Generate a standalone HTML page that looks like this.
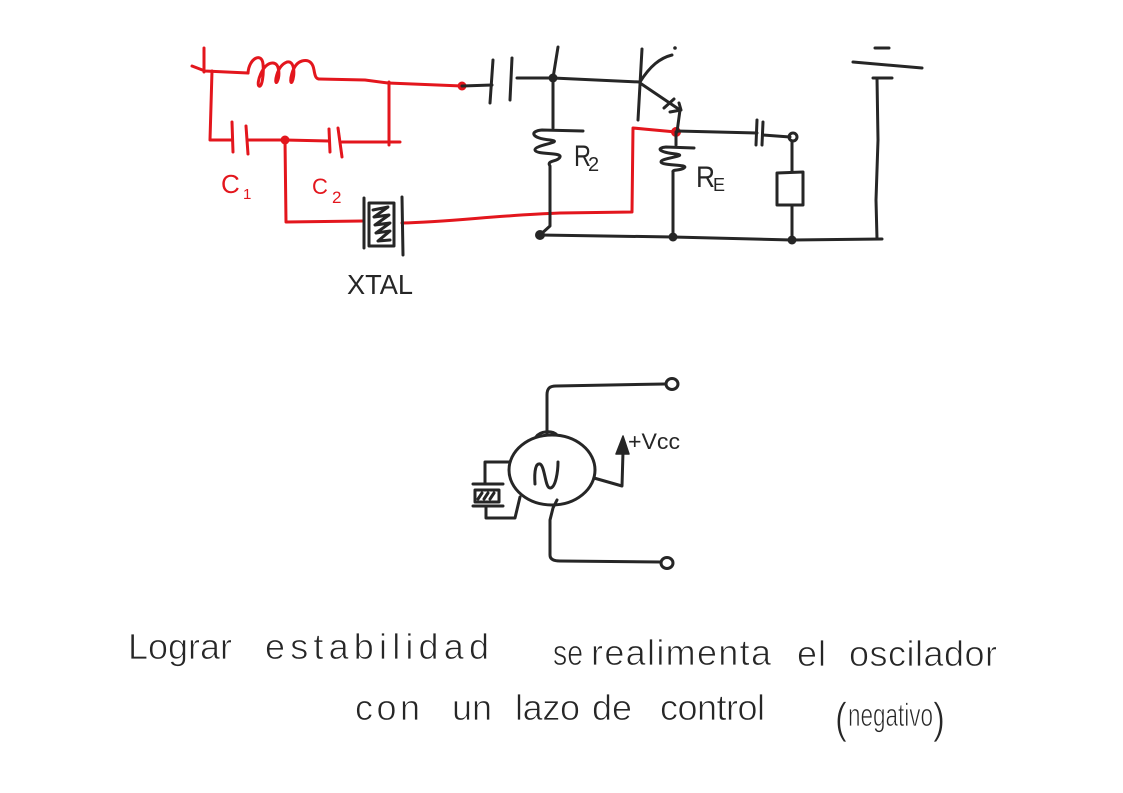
<!DOCTYPE html>
<html>
<head>
<meta charset="utf-8">
<style>
html,body{margin:0;padding:0;background:#fff;}
svg{display:block;}
.r{stroke:#e3161d;fill:none;stroke-width:3;stroke-linecap:round;stroke-linejoin:round;}
.k{stroke:#262626;fill:none;stroke-width:3;stroke-linecap:round;stroke-linejoin:round;}
.t{font-family:"Liberation Sans",sans-serif;fill:#262626;}
.tr{font-family:"Liberation Sans",sans-serif;fill:#e3161d;}
.h{font-family:"Liberation Sans",sans-serif;fill:#262626;stroke:#fff;stroke-width:0.8;}
</style>
</head>
<body>
<svg width="1123" height="793" viewBox="0 0 1123 793" xmlns="http://www.w3.org/2000/svg">
<rect width="1123" height="793" fill="#fff"/>

<!-- ===== RED TANK CIRCUIT ===== -->
<path class="r" d="M204,48 L204,72"/>
<path class="r" d="M192,66 L205,71 L248,73"/>
<!-- inductor -->
<path class="r" d="M248,73 C249,58 262,52 263,64 C264,74 262,88 259,86 C256,84 262,64 272,63 C280,62 280,76 277,82 C274,86 276,66 287,62 C295,60 295,76 292,82 C289,86 291,64 302,61 C310,59 313,64 314,70 C315,76 316,79 319,79"/>
<path class="r" d="M319,79 L365,80 L388,83 L462,86"/>
<circle cx="462" cy="86" r="4.5" fill="#e3161d"/>
<path class="r" d="M389,82 L389,145"/>
<path class="r" d="M212,71 L210,140 L232,140"/>
<path class="r" d="M232,122 L233,152"/>
<path class="r" d="M246,126 L248,154"/>
<path class="r" d="M248,140 L285,140 L329,141"/>
<circle cx="285" cy="140" r="4.5" fill="#e3161d"/>
<path class="r" d="M329,129 L330,152"/>
<path class="r" d="M338,128 L342,157"/>
<path class="r" d="M342,142 L400,142"/>
<path class="r" d="M285,140 L286,222 L363,221"/>
<path class="r" d="M402,223 C450,222 500,215 560,213 L632,212 L633,128 L676,132"/>
<circle cx="676" cy="132" r="5" fill="#e3161d"/>

<!-- C labels -->
<text class="tr" x="221" y="193" font-size="26">C</text>
<text class="tr" x="243" y="199" font-size="15">1</text>
<text class="tr" x="312" y="194" font-size="22">C</text>
<text class="tr" x="332" y="203" font-size="17">2</text>

<!-- XTAL -->
<path class="k" d="M364,198 L364,248"/>
<path class="k" d="M369,203 L394,203 L394,246 L369,246 Z"/>
<path class="k" stroke-width="2" d="M373,210 L388,207 L374,217 L389,215 L375,225 L390,223 L376,233 L390,231 L378,241 L390,240"/>
<path class="k" d="M402,197 L403,255"/>
<text class="t" x="347" y="294" font-size="28" textLength="66" lengthAdjust="spacingAndGlyphs">XTAL</text>

<!-- ===== BLACK CIRCUIT ===== -->
<path class="k" d="M462,86 L492,85"/>
<path class="k" d="M493,60 L490,103"/>
<path class="k" d="M512,58 L510,100"/>
<path class="k" d="M517,78 L553,78"/>
<circle cx="553" cy="78" r="4.5" fill="#262626"/>
<path class="k" d="M558,47 L553,78 L553,128"/>
<path class="k" d="M553,78 L640,82"/>

<!-- R2 -->
<path class="k" d="M583,131 L542,130 C530,131 530,138 550,140 C566,142 534,145 535,150 C536,155 562,152 560,157 C558,162 546,160 550,166 L550,226 L540,235"/>
<text class="t" x="574" y="166" font-size="30" textLength="17" lengthAdjust="spacingAndGlyphs">R</text>
<text class="t" x="588" y="171" font-size="20">2</text>

<!-- transistor -->
<path class="k" d="M642,49 L638,120"/>
<path class="k" d="M640,82 C650,66 660,58 672,55"/>
<circle cx="675" cy="48" r="1.8" fill="#262626"/>
<path class="k" d="M640,83 L680,110"/>
<path class="k" d="M664,108 L674,99"/>
<path class="k" d="M670,112 L681,110 L679,103"/>
<path class="k" d="M680,110 L677,132"/>

<!-- output cap & load -->
<path class="k" d="M677,131 L757,133"/>
<path class="k" d="M757,120 L756,145"/>
<path class="k" d="M763,122 L762,145"/>
<path class="k" d="M763,135 L790,137"/>
<circle cx="793" cy="137" r="4" fill="none" stroke="#262626" stroke-width="3"/>
<path class="k" d="M792,141 L792,172"/>
<path class="k" d="M777,173 L803,172 L803,205 L777,205 Z"/>
<path class="k" d="M792,205 L792,240"/>

<!-- RE -->
<path class="k" d="M676,132 L676,145"/>
<path class="k" d="M694,148 L666,147 C656,148 658,152 676,154 C690,156 660,158 661,162 C662,166 690,164 684,168 C680,171 672,169 673,172 L673,237"/>
<text class="t" x="696" y="187" font-size="30" textLength="19" lengthAdjust="spacingAndGlyphs">R</text>
<text class="t" x="713" y="191" font-size="18">E</text>

<!-- ground rail -->
<path class="k" d="M540,235 L673,237 L792,240 L882,239"/>
<circle cx="540" cy="235" r="5" fill="#262626"/>
<circle cx="673" cy="237" r="4.5" fill="#262626"/>
<circle cx="792" cy="240" r="4.5" fill="#262626"/>

<!-- supply -->
<path class="k" d="M875,48 L889,48"/>
<path class="k" d="M853,62 L922,68"/>
<path class="k" d="M873,78 L892,78"/>
<path class="k" d="M877,78 L878,140 L876,200 L877,239"/>

<!-- ===== OSCILLATOR BLOCK ===== -->
<ellipse class="k" cx="552" cy="470" rx="43" ry="35"/>
<path class="k" d="M535,484 C534,470 536,463 540,464 C545,466 545,488 550,488 C556,488 558,470 558,462"/>
<path class="k" d="M536,437 C540,431 552,430 557,435"/>
<path class="k" d="M547,434 L547,395 C547,388 550,386 556,386 L665,384"/>
<ellipse class="k" cx="672" cy="384" rx="6" ry="5.5"/>
<path class="k" d="M557,500 L553,508 L550,520 L550,555 C550,560 555,561 560,561 L661,562"/>
<ellipse class="k" cx="667" cy="563" rx="6" ry="5.5"/>
<path class="k" d="M594,478 L622,486 L623,452"/>
<path d="M616,454 L623,436 L629,454 Z" fill="#262626" stroke="#262626" stroke-width="1.5" stroke-linejoin="round"/>
<text class="t" x="628" y="449" font-size="22" textLength="52" lengthAdjust="spacingAndGlyphs">+Vcc</text>

<!-- small crystal -->
<path class="k" d="M509,462 L485,462 L485,483"/>
<path class="k" d="M473,484 L503,484"/>
<path class="k" d="M475,490 L499,490 L499,502 L475,502 Z"/>
<path class="k" stroke-width="2" d="M478,499 L482,493 M484,499 L488,493 M490,499 L494,493"/>
<path class="k" d="M473,506 L503,506"/>
<path class="k" d="M486,506 L486,518 L515,518 L520,497"/>

<!-- ===== HANDWRITTEN NOTE ===== -->
<g class="h" font-size="36">
<text x="128" y="659" textLength="104" lengthAdjust="spacing">Lograr</text>
<text x="265" y="659" textLength="224" lengthAdjust="spacing">estabilidad</text>
<text x="553" y="665" textLength="30" lengthAdjust="spacingAndGlyphs">se</text>
<text x="591" y="665" textLength="180" lengthAdjust="spacing">realimenta</text>
<text x="797" y="666" textLength="29" lengthAdjust="spacing">el</text>
<text x="849" y="666" textLength="148" lengthAdjust="spacing">oscilador</text>
<text x="355" y="720" textLength="65" lengthAdjust="spacing">con</text>
<text x="452" y="720" textLength="40" lengthAdjust="spacing">un</text>
<text x="515" y="720" textLength="65" lengthAdjust="spacing">lazo</text>
<text x="592" y="720" textLength="40" lengthAdjust="spacing">de</text>
<text x="660" y="720" textLength="105" lengthAdjust="spacing">control</text>
</g>
<text class="h" x="835" y="733" font-size="44" textLength="12" lengthAdjust="spacingAndGlyphs">(</text>
<text class="h" x="848" y="726" font-size="32" textLength="85" lengthAdjust="spacingAndGlyphs">negativo</text>
<text class="h" x="933" y="733" font-size="44" textLength="12" lengthAdjust="spacingAndGlyphs">)</text>
</svg>
</body>
</html>
